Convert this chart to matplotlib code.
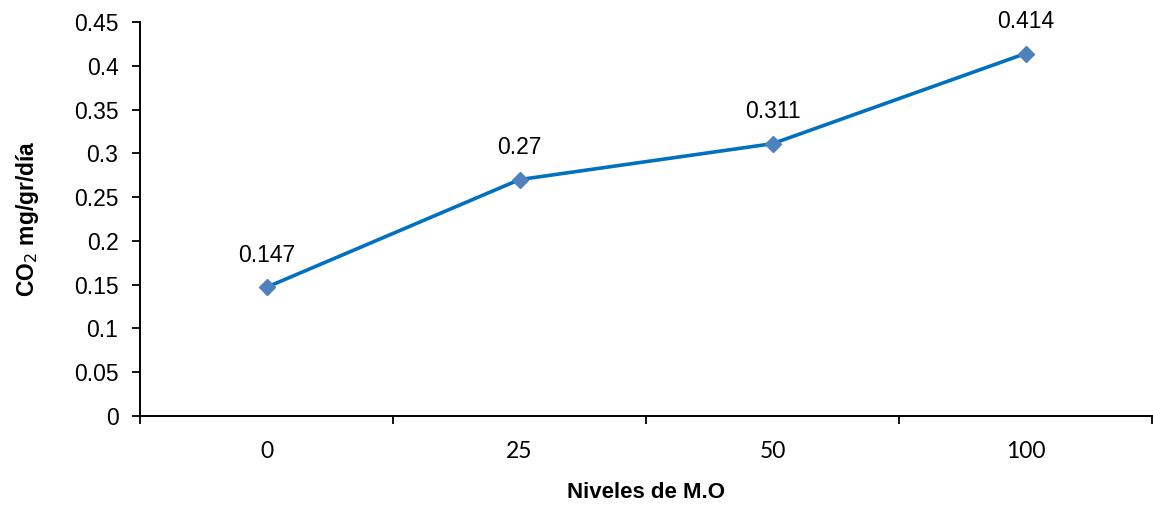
import matplotlib.pyplot as plt

niveles = ["0", "25", "50", "100"]
co2 = [0.147, 0.27, 0.311, 0.414]
y_ticks = [0, 0.05, 0.1, 0.15, 0.2, 0.25, 0.3, 0.35, 0.4, 0.45]

plt.rcParams["font.family"] = ["Liberation Sans", "DejaVu Sans"]

fig = plt.figure(figsize=(11.53, 5.28), dpi=100)
ax = fig.add_axes([140 / 1153, 1 - 416 / 528, 1 - 141 / 1153, (416 - 22) / 528])

x = list(range(len(niveles)))
ax.plot(x, co2, color="#0070C0", linewidth=2.6, marker="D", markersize=8.5,
        markerfacecolor="#4F81BD", markeredgecolor="#4F81BD", zorder=3)

for xi, v in zip(x, co2):
    ax.annotate(f"{v:g}", (xi, v), xytext=(0, 23), textcoords="offset points",
                ha="center", va="center", fontsize=16.5)

ax.set_xlim(-0.5, len(niveles) - 0.5)
ax.set_ylim(0, 0.45)
ax.set_yticks(y_ticks)
ax.set_yticklabels([f"{t:g}" for t in y_ticks], fontsize=16.5)

# category labels in the middle, tick marks between categories
ax.set_xticks([i - 0.5 for i in range(len(niveles) + 1)])
ax.set_xticklabels([])
ax.set_xticks(x, minor=True)
ax.set_xticklabels(niveles, minor=True, fontsize=16.5, family=["Lato", "DejaVu Sans"])
ax.tick_params(axis="x", which="minor", length=0, pad=18)
ax.tick_params(axis="x", which="major", length=5.5, width=1.3, direction="out")
ax.tick_params(axis="y", length=5.5, width=1.3, direction="out", pad=10)

for s in ["top", "right"]:
    ax.spines[s].set_visible(False)
for s in ["left", "bottom"]:
    ax.spines[s].set_linewidth(1.4)

ax.set_ylabel("CO$_2$ mg/gr/día", fontsize=16.5, fontweight="bold", labelpad=24)
fig.text(646 / 1153, 1 - 493 / 528, "Niveles de M.O", ha="center", va="center",
         fontsize=16, fontweight="bold")

fig.savefig("out.png", dpi=100)
